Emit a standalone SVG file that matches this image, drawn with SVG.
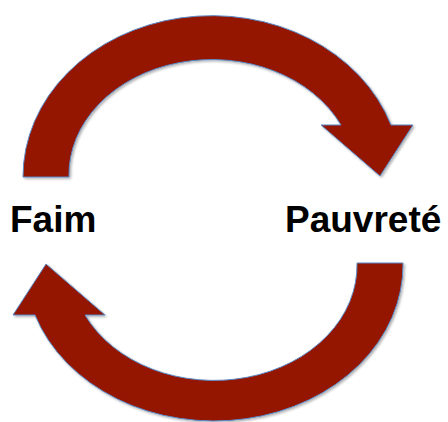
<svg xmlns="http://www.w3.org/2000/svg" width="448" height="422" viewBox="0 0 448 422">
  <defs>
    <filter id="sh" x="-10%" y="-10%" width="120%" height="120%">
      <feDropShadow dx="1.5" dy="1.5" stdDeviation="1.2" flood-color="#000" flood-opacity="0.3"/>
    </filter>
  </defs>
  <style>
    .arrow { fill: #941300; stroke: #5a8ac6; stroke-width: 1; stroke-linejoin: miter; filter: url(#sh); }
    .label { font-family: "Liberation Sans", Arial, sans-serif; font-weight: bold; font-size: 37px; fill: #000; }
  </style>
  <rect width="448" height="422" fill="#fff"/>
  <g id="connectors">
    <path id="arrow-top" class="arrow" d="M 23,177 A 189,161 0 0 1 391,125 L 413,125 L 380,176 L 321,125 L 341,125 A 143,115 0 0 0 69,177 Z"/>
    <path id="arrow-bottom" class="arrow" d="M 403,263 A 189,156 0 0 1 35,315 L 13,315 L 46,264 L 105,315 L 85,315 A 143,115 0 0 0 357,263 Z"/>
  </g>
  <g id="node-faim">
    <text class="label" x="10" y="232">Faim</text>
  </g>
  <g id="node-pauvrete">
    <text class="label" x="285" y="232">Pauvreté</text>
  </g>
</svg>
